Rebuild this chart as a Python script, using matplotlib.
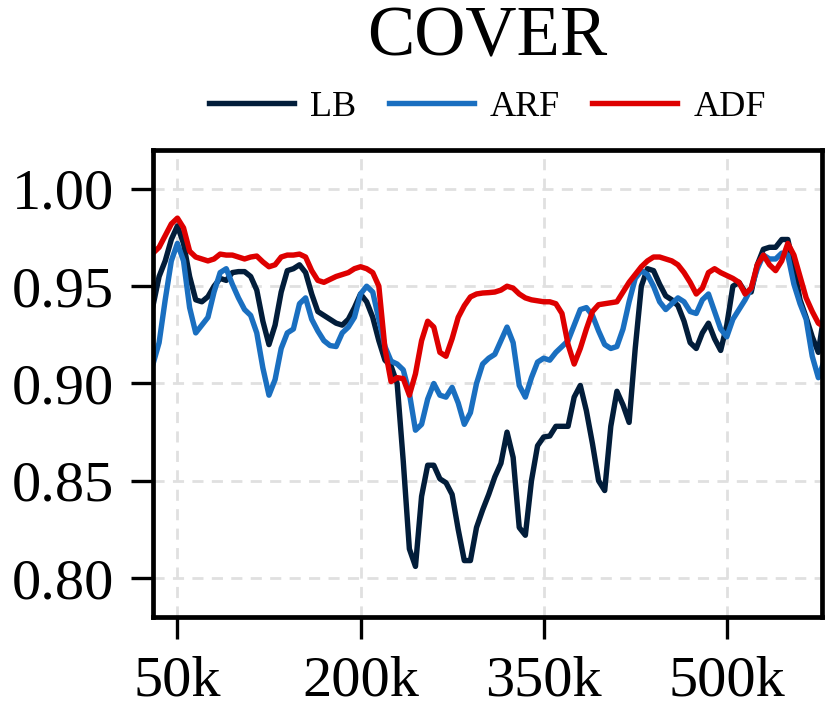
import numpy as np
import matplotlib
matplotlib.use("Agg")
import matplotlib.pyplot as plt

plt.rcParams['font.family'] = ['Liberation Serif', 'DejaVu Serif']

# samples every 5k, from 30k to 580k
x_k = np.arange(30, 585, 5)

lb = [0.940, 0.955, 0.963, 0.974, 0.981, 0.972, 0.955, 0.943, 0.942, 0.9446,
      0.950, 0.954, 0.953, 0.957, 0.9575, 0.9575, 0.955, 0.948, 0.932, 0.920,
      0.930, 0.947, 0.958, 0.959, 0.961, 0.957, 0.946, 0.937, 0.935, 0.933,
      0.931, 0.930, 0.933, 0.939, 0.946, 0.942, 0.934, 0.922, 0.912, 0.909,
      0.900, 0.860, 0.815, 0.806, 0.842, 0.858, 0.858, 0.851, 0.849, 0.843,
      0.825, 0.809, 0.809, 0.826, 0.835, 0.843, 0.852, 0.859, 0.875, 0.862,
      0.826, 0.822, 0.850, 0.868, 0.8725, 0.873, 0.878, 0.878, 0.878, 0.893,
      0.899, 0.886, 0.869, 0.850, 0.845, 0.878, 0.896, 0.889, 0.880, 0.918,
      0.950, 0.959, 0.958, 0.951, 0.945, 0.943, 0.940, 0.932, 0.921, 0.918,
      0.926, 0.931, 0.923, 0.917, 0.930, 0.950, 0.952, 0.947, 0.947, 0.961,
      0.969, 0.970, 0.970, 0.974, 0.974, 0.960, 0.943, 0.934, 0.924, 0.916,
      0.937]

arf = [0.910, 0.921, 0.943, 0.963, 0.972, 0.963, 0.939, 0.926, 0.930, 0.934,
       0.947, 0.957, 0.959, 0.951, 0.944, 0.938, 0.935, 0.926, 0.908, 0.894,
       0.902, 0.918, 0.926, 0.928, 0.941, 0.944, 0.933, 0.927, 0.922, 0.9195,
       0.919, 0.926, 0.929, 0.934, 0.946, 0.950, 0.947, 0.933, 0.919, 0.9115,
       0.910, 0.907, 0.895, 0.876, 0.879, 0.892, 0.900, 0.894, 0.893, 0.898,
       0.890, 0.879, 0.885, 0.900, 0.910, 0.913, 0.915, 0.922, 0.929, 0.921,
       0.899, 0.893, 0.903, 0.911, 0.913, 0.912, 0.916, 0.919, 0.922, 0.930,
       0.938, 0.939, 0.935, 0.927, 0.920, 0.918, 0.919, 0.928, 0.942, 0.954,
       0.958, 0.956, 0.950, 0.942, 0.938, 0.941, 0.944, 0.942, 0.937, 0.936,
       0.943, 0.946, 0.937, 0.928, 0.924, 0.933, 0.938, 0.943, 0.949, 0.959,
       0.966, 0.964, 0.964, 0.967, 0.966, 0.951, 0.941, 0.933, 0.914, 0.903,
       0.912]

adf = [0.967, 0.970, 0.976, 0.982, 0.985, 0.980, 0.968, 0.965, 0.964, 0.963,
       0.964, 0.9665, 0.966, 0.966, 0.965, 0.964, 0.965, 0.9655, 0.9625, 0.960,
       0.961, 0.965, 0.966, 0.966, 0.9665, 0.965, 0.958, 0.953, 0.952, 0.9535,
       0.955, 0.956, 0.957, 0.959, 0.960, 0.959, 0.957, 0.950, 0.918, 0.901,
       0.903, 0.9025, 0.894, 0.905, 0.922, 0.932, 0.929, 0.916, 0.914, 0.923,
       0.934, 0.940, 0.9445, 0.946, 0.9465, 0.9467, 0.947, 0.948, 0.950, 0.949,
       0.946, 0.944, 0.943, 0.9425, 0.942, 0.942, 0.941, 0.936, 0.920, 0.910,
       0.918, 0.928, 0.937, 0.9405, 0.941, 0.9415, 0.942, 0.947, 0.952, 0.956,
       0.960, 0.963, 0.965, 0.965, 0.964, 0.963, 0.961, 0.957, 0.952, 0.946,
       0.949, 0.957, 0.959, 0.957, 0.9555, 0.954, 0.952, 0.946, 0.949, 0.961,
       0.966, 0.961, 0.958, 0.963, 0.972, 0.966, 0.955, 0.944, 0.937, 0.931,
       0.929]

series = [("LB", lb, "#021d3a"), ("ARF", arf, "#1a6fc0"), ("ADF", adf, "#de0000")]
xticks = [50, 200, 350, 500]
xtick_labels = ["50k", "200k", "350k", "500k"]
yticks = [0.80, 0.85, 0.90, 0.95, 1.00]

fig = plt.figure(figsize=(8.29, 7.19), dpi=100)
ax = fig.add_axes([153 / 829, 102 / 719, 669 / 829, 467 / 719])

for name, vals, col in series:
    ax.plot(x_k, vals, color=col, lw=3.9, label=name)

ax.set_xlim(30, 578)
ax.set_ylim(0.78, 1.02)
ax.set_xticks(xticks)
ax.set_xticklabels(xtick_labels)
ax.set_yticks(yticks)
ax.set_yticklabels([f"{v:.2f}" for v in yticks])

ax.grid(True, color='#e0e0e0', lw=2.0, linestyle=(0, (4, 3)))
ax.set_axisbelow(True)
for s in ax.spines.values():
    s.set_linewidth(3.4)
    s.set_color('black')
ax.tick_params(axis='both', direction='out', length=16, width=2.4,
               labelsize=42, pad=12)

fig.text(487.5 / 829, 1 - 38 / 719, "COVER", ha='center', va='center', fontsize=51)
fig.legend(loc='center', bbox_to_anchor=(487.5 / 829, 1 - 107 / 719), ncol=3,
           frameon=False, fontsize=26, handlelength=2.35, handletextpad=0.45,
           columnspacing=0.9, borderaxespad=0)

fig.savefig("out.png", dpi=100)
